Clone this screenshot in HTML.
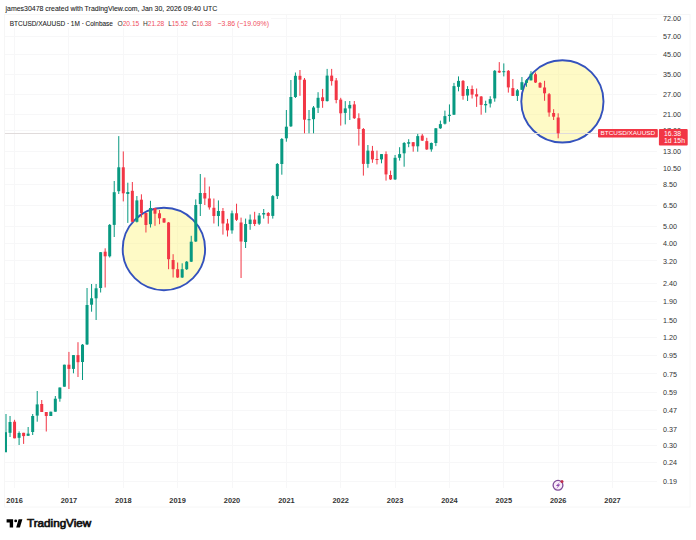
<!DOCTYPE html>
<html><head><meta charset="utf-8"><style>
html,body{margin:0;padding:0;background:#fff;}
body{width:696px;height:540px;position:relative;overflow:hidden;font-family:"Liberation Sans",sans-serif;}
</style></head><body>
<svg width="696" height="540" viewBox="0 0 696 540" style="position:absolute;left:0;top:0">
<rect x="4.5" y="14.5" width="685.5" height="492.5" fill="none" stroke="#f6f6f6" stroke-width="1"/>
<line x1="5" y1="18.5" x2="657" y2="18.5" stroke="#f7f7f8" stroke-width="1"/>
<line x1="5" y1="36.5" x2="657" y2="36.5" stroke="#f7f7f8" stroke-width="1"/>
<line x1="5" y1="54.5" x2="657" y2="54.5" stroke="#f7f7f8" stroke-width="1"/>
<line x1="5" y1="74.5" x2="657" y2="74.5" stroke="#f7f7f8" stroke-width="1"/>
<line x1="5" y1="94.5" x2="657" y2="94.5" stroke="#f7f7f8" stroke-width="1"/>
<line x1="5" y1="114.5" x2="657" y2="114.5" stroke="#f7f7f8" stroke-width="1"/>
<line x1="5" y1="151.5" x2="657" y2="151.5" stroke="#f7f7f8" stroke-width="1"/>
<line x1="5" y1="168.5" x2="657" y2="168.5" stroke="#f7f7f8" stroke-width="1"/>
<line x1="5" y1="184.5" x2="657" y2="184.5" stroke="#f7f7f8" stroke-width="1"/>
<line x1="5" y1="205.5" x2="657" y2="205.5" stroke="#f7f7f8" stroke-width="1"/>
<line x1="5" y1="226.5" x2="657" y2="226.5" stroke="#f7f7f8" stroke-width="1"/>
<line x1="5" y1="243.5" x2="657" y2="243.5" stroke="#f7f7f8" stroke-width="1"/>
<line x1="5" y1="260.5" x2="657" y2="260.5" stroke="#f7f7f8" stroke-width="1"/>
<line x1="5" y1="283.5" x2="657" y2="283.5" stroke="#f7f7f8" stroke-width="1"/>
<line x1="5" y1="301.5" x2="657" y2="301.5" stroke="#f7f7f8" stroke-width="1"/>
<line x1="5" y1="319.5" x2="657" y2="319.5" stroke="#f7f7f8" stroke-width="1"/>
<line x1="5" y1="337.5" x2="657" y2="337.5" stroke="#f7f7f8" stroke-width="1"/>
<line x1="5" y1="355.5" x2="657" y2="355.5" stroke="#f7f7f8" stroke-width="1"/>
<line x1="5" y1="373.5" x2="657" y2="373.5" stroke="#f7f7f8" stroke-width="1"/>
<line x1="5" y1="392.5" x2="657" y2="392.5" stroke="#f7f7f8" stroke-width="1"/>
<line x1="5" y1="410.5" x2="657" y2="410.5" stroke="#f7f7f8" stroke-width="1"/>
<line x1="5" y1="429.5" x2="657" y2="429.5" stroke="#f7f7f8" stroke-width="1"/>
<line x1="5" y1="445.5" x2="657" y2="445.5" stroke="#f7f7f8" stroke-width="1"/>
<line x1="5" y1="462.5" x2="657" y2="462.5" stroke="#f7f7f8" stroke-width="1"/>
<line x1="5" y1="481.5" x2="657" y2="481.5" stroke="#f7f7f8" stroke-width="1"/>
<line x1="5" y1="130.5" x2="657" y2="130.5" stroke="#f7f7f8" stroke-width="1"/>
<line x1="14.5" y1="15" x2="14.5" y2="488" stroke="#f7f7f8" stroke-width="1"/>
<line x1="68.5" y1="15" x2="68.5" y2="488" stroke="#f7f7f8" stroke-width="1"/>
<line x1="123.5" y1="15" x2="123.5" y2="488" stroke="#f7f7f8" stroke-width="1"/>
<line x1="177.5" y1="15" x2="177.5" y2="488" stroke="#f7f7f8" stroke-width="1"/>
<line x1="232.5" y1="15" x2="232.5" y2="488" stroke="#f7f7f8" stroke-width="1"/>
<line x1="286.5" y1="15" x2="286.5" y2="488" stroke="#f7f7f8" stroke-width="1"/>
<line x1="340.5" y1="15" x2="340.5" y2="488" stroke="#f7f7f8" stroke-width="1"/>
<line x1="395.5" y1="15" x2="395.5" y2="488" stroke="#f7f7f8" stroke-width="1"/>
<line x1="449.5" y1="15" x2="449.5" y2="488" stroke="#f7f7f8" stroke-width="1"/>
<line x1="503.5" y1="15" x2="503.5" y2="488" stroke="#f7f7f8" stroke-width="1"/>
<line x1="558.5" y1="15" x2="558.5" y2="488" stroke="#f7f7f8" stroke-width="1"/>
<line x1="612.5" y1="15" x2="612.5" y2="488" stroke="#f7f7f8" stroke-width="1"/>
<circle cx="163.9" cy="249.0" r="41.2" fill="#fdf278" fill-opacity="0.42"/>
<circle cx="562.4" cy="101.4" r="41.1" fill="#fdf278" fill-opacity="0.42"/>
<circle cx="163.9" cy="249.0" r="41.2" fill="none" stroke="#3452bd" stroke-width="1.9"/>
<circle cx="562.4" cy="101.4" r="41.1" fill="none" stroke="#3452bd" stroke-width="1.9"/>
<line x1="5" y1="133.5" x2="598" y2="133.5" stroke="#e0dbdb" stroke-width="1"/>
<rect x="5.50" y="414.0" width="1" height="38.2" fill="#089981"/>
<rect x="5.00" y="432.2" width="2.0" height="20.0" fill="#089981"/>
<rect x="9.53" y="416.0" width="1" height="21.0" fill="#089981"/>
<rect x="8.53" y="422.0" width="3.0" height="10.8" fill="#089981"/>
<rect x="14.06" y="419.8" width="1" height="18.5" fill="#f23645"/>
<rect x="13.06" y="421.7" width="3.0" height="16.6" fill="#f23645"/>
<rect x="18.59" y="431.4" width="1" height="13.6" fill="#089981"/>
<rect x="17.59" y="433.0" width="3.0" height="4.8" fill="#089981"/>
<rect x="23.12" y="432.8" width="1" height="11.1" fill="#f23645"/>
<rect x="22.12" y="432.8" width="3.0" height="3.3" fill="#f23645"/>
<rect x="27.65" y="427.0" width="1" height="8.8" fill="#089981"/>
<rect x="26.65" y="433.6" width="3.0" height="2.2" fill="#089981"/>
<rect x="32.18" y="414.0" width="1" height="21.0" fill="#089981"/>
<rect x="31.18" y="416.0" width="3.0" height="16.0" fill="#089981"/>
<rect x="36.71" y="391.0" width="1" height="30.7" fill="#089981"/>
<rect x="35.71" y="404.4" width="3.0" height="11.2" fill="#089981"/>
<rect x="41.24" y="400.0" width="1" height="12.0" fill="#f23645"/>
<rect x="40.24" y="404.0" width="3.0" height="8.0" fill="#f23645"/>
<rect x="45.77" y="412.0" width="1" height="19.5" fill="#f23645"/>
<rect x="44.77" y="412.0" width="3.0" height="4.0" fill="#f23645"/>
<rect x="50.30" y="411.7" width="1" height="4.3" fill="#089981"/>
<rect x="49.30" y="411.7" width="3.0" height="4.3" fill="#089981"/>
<rect x="54.83" y="396.0" width="1" height="15.7" fill="#089981"/>
<rect x="53.83" y="398.7" width="3.0" height="13.0" fill="#089981"/>
<rect x="59.36" y="387.5" width="1" height="14.2" fill="#089981"/>
<rect x="58.36" y="387.5" width="3.0" height="11.2" fill="#089981"/>
<rect x="63.89" y="364.7" width="1" height="22.0" fill="#089981"/>
<rect x="62.89" y="364.7" width="3.0" height="22.0" fill="#089981"/>
<rect x="68.42" y="351.9" width="1" height="37.1" fill="#f23645"/>
<rect x="67.42" y="364.7" width="3.0" height="4.2" fill="#f23645"/>
<rect x="72.95" y="355.0" width="1" height="18.3" fill="#089981"/>
<rect x="71.95" y="355.1" width="3.0" height="13.8" fill="#089981"/>
<rect x="77.48" y="342.2" width="1" height="34.8" fill="#f23645"/>
<rect x="76.48" y="355.1" width="3.0" height="7.1" fill="#f23645"/>
<rect x="82.01" y="344.0" width="1" height="36.0" fill="#089981"/>
<rect x="81.01" y="344.7" width="3.0" height="17.3" fill="#089981"/>
<rect x="86.54" y="288.0" width="1" height="57.0" fill="#089981"/>
<rect x="85.54" y="305.0" width="3.0" height="39.4" fill="#089981"/>
<rect x="91.07" y="284.0" width="1" height="27.7" fill="#089981"/>
<rect x="90.07" y="298.3" width="3.0" height="6.4" fill="#089981"/>
<rect x="95.60" y="284.0" width="1" height="36.0" fill="#089981"/>
<rect x="94.60" y="288.3" width="3.0" height="10.0" fill="#089981"/>
<rect x="100.13" y="252.0" width="1" height="40.5" fill="#089981"/>
<rect x="99.13" y="252.2" width="3.0" height="35.8" fill="#089981"/>
<rect x="104.66" y="248.3" width="1" height="39.2" fill="#f23645"/>
<rect x="103.66" y="251.7" width="3.0" height="4.6" fill="#f23645"/>
<rect x="109.19" y="224.0" width="1" height="33.5" fill="#089981"/>
<rect x="108.19" y="224.9" width="3.0" height="31.4" fill="#089981"/>
<rect x="113.72" y="181.0" width="1" height="56.0" fill="#089981"/>
<rect x="112.72" y="192.2" width="3.0" height="32.7" fill="#089981"/>
<rect x="118.25" y="136.1" width="1" height="57.9" fill="#089981"/>
<rect x="117.25" y="167.3" width="3.0" height="23.9" fill="#089981"/>
<rect x="122.78" y="151.4" width="1" height="50.0" fill="#f23645"/>
<rect x="121.78" y="167.3" width="3.0" height="26.0" fill="#f23645"/>
<rect x="127.31" y="182.7" width="1" height="40.2" fill="#089981"/>
<rect x="126.31" y="192.0" width="3.0" height="2.0" fill="#089981"/>
<rect x="131.84" y="182.0" width="1" height="40.0" fill="#f23645"/>
<rect x="130.84" y="190.8" width="3.0" height="31.0" fill="#f23645"/>
<rect x="136.37" y="196.0" width="1" height="26.5" fill="#089981"/>
<rect x="135.37" y="200.4" width="3.0" height="21.4" fill="#089981"/>
<rect x="140.90" y="194.3" width="1" height="23.2" fill="#f23645"/>
<rect x="139.90" y="199.7" width="3.0" height="13.3" fill="#f23645"/>
<rect x="145.43" y="213.0" width="1" height="19.5" fill="#f23645"/>
<rect x="144.43" y="213.0" width="3.0" height="12.0" fill="#f23645"/>
<rect x="149.96" y="200.8" width="1" height="26.7" fill="#089981"/>
<rect x="148.96" y="208.0" width="3.0" height="16.2" fill="#089981"/>
<rect x="154.49" y="208.0" width="1" height="17.8" fill="#f23645"/>
<rect x="153.49" y="208.0" width="3.0" height="5.7" fill="#f23645"/>
<rect x="159.02" y="210.0" width="1" height="14.2" fill="#f23645"/>
<rect x="158.02" y="213.3" width="3.0" height="5.0" fill="#f23645"/>
<rect x="163.55" y="218.0" width="1" height="5.0" fill="#f23645"/>
<rect x="162.55" y="218.3" width="3.0" height="4.2" fill="#f23645"/>
<rect x="168.08" y="222.0" width="1" height="47.2" fill="#f23645"/>
<rect x="167.08" y="222.5" width="3.0" height="36.7" fill="#f23645"/>
<rect x="172.61" y="254.2" width="1" height="23.3" fill="#f23645"/>
<rect x="171.61" y="260.0" width="3.0" height="9.2" fill="#f23645"/>
<rect x="177.14" y="262.5" width="1" height="15.5" fill="#f23645"/>
<rect x="176.14" y="269.2" width="3.0" height="8.3" fill="#f23645"/>
<rect x="181.67" y="263.3" width="1" height="14.7" fill="#089981"/>
<rect x="180.67" y="269.2" width="3.0" height="8.3" fill="#089981"/>
<rect x="186.20" y="261.0" width="1" height="9.0" fill="#089981"/>
<rect x="185.20" y="261.7" width="3.0" height="7.5" fill="#089981"/>
<rect x="190.73" y="235.8" width="1" height="26.2" fill="#089981"/>
<rect x="189.73" y="241.7" width="3.0" height="20.0" fill="#089981"/>
<rect x="195.26" y="199.4" width="1" height="42.6" fill="#089981"/>
<rect x="194.26" y="205.0" width="3.0" height="36.5" fill="#089981"/>
<rect x="199.79" y="174.0" width="1" height="42.0" fill="#089981"/>
<rect x="198.79" y="193.0" width="3.0" height="11.0" fill="#089981"/>
<rect x="204.32" y="177.5" width="1" height="27.5" fill="#f23645"/>
<rect x="203.32" y="193.0" width="3.0" height="5.5" fill="#f23645"/>
<rect x="208.85" y="186.5" width="1" height="23.1" fill="#f23645"/>
<rect x="207.85" y="198.5" width="3.0" height="8.9" fill="#f23645"/>
<rect x="213.38" y="198.5" width="1" height="25.0" fill="#f23645"/>
<rect x="212.38" y="207.8" width="3.0" height="8.2" fill="#f23645"/>
<rect x="217.91" y="200.4" width="1" height="25.9" fill="#089981"/>
<rect x="216.91" y="211.0" width="3.0" height="5.0" fill="#089981"/>
<rect x="222.44" y="208.0" width="1" height="26.6" fill="#f23645"/>
<rect x="221.44" y="211.0" width="3.0" height="12.5" fill="#f23645"/>
<rect x="226.97" y="218.9" width="1" height="17.6" fill="#f23645"/>
<rect x="225.97" y="223.5" width="3.0" height="6.9" fill="#f23645"/>
<rect x="231.50" y="210.6" width="1" height="23.1" fill="#089981"/>
<rect x="230.50" y="213.3" width="3.0" height="17.1" fill="#089981"/>
<rect x="236.03" y="203.7" width="1" height="17.3" fill="#f23645"/>
<rect x="235.03" y="213.3" width="3.0" height="6.5" fill="#f23645"/>
<rect x="240.56" y="217.6" width="1" height="60.4" fill="#f23645"/>
<rect x="239.56" y="222.5" width="3.0" height="19.0" fill="#f23645"/>
<rect x="245.09" y="218.6" width="1" height="29.4" fill="#089981"/>
<rect x="244.09" y="224.0" width="3.0" height="18.0" fill="#089981"/>
<rect x="249.62" y="214.5" width="1" height="15.3" fill="#089981"/>
<rect x="248.62" y="219.6" width="3.0" height="4.4" fill="#089981"/>
<rect x="254.15" y="211.8" width="1" height="14.2" fill="#f23645"/>
<rect x="253.15" y="219.6" width="3.0" height="4.4" fill="#f23645"/>
<rect x="258.68" y="213.0" width="1" height="12.0" fill="#089981"/>
<rect x="257.68" y="215.5" width="3.0" height="8.2" fill="#089981"/>
<rect x="263.21" y="209.0" width="1" height="9.6" fill="#089981"/>
<rect x="262.21" y="213.0" width="3.0" height="1.5" fill="#089981"/>
<rect x="267.74" y="212.0" width="1" height="11.7" fill="#f23645"/>
<rect x="266.74" y="213.0" width="3.0" height="2.9" fill="#f23645"/>
<rect x="272.27" y="195.0" width="1" height="23.6" fill="#089981"/>
<rect x="271.27" y="196.1" width="3.0" height="19.8" fill="#089981"/>
<rect x="276.80" y="163.0" width="1" height="36.0" fill="#089981"/>
<rect x="275.80" y="164.0" width="3.0" height="32.1" fill="#089981"/>
<rect x="281.33" y="138.0" width="1" height="36.7" fill="#089981"/>
<rect x="280.33" y="139.0" width="3.0" height="25.0" fill="#089981"/>
<rect x="285.86" y="110.0" width="1" height="31.7" fill="#089981"/>
<rect x="284.86" y="126.7" width="3.0" height="11.6" fill="#089981"/>
<rect x="290.39" y="80.0" width="1" height="47.0" fill="#089981"/>
<rect x="289.39" y="97.0" width="3.0" height="29.3" fill="#089981"/>
<rect x="294.92" y="72.5" width="1" height="25.5" fill="#089981"/>
<rect x="293.92" y="75.8" width="3.0" height="21.2" fill="#089981"/>
<rect x="299.45" y="70.0" width="1" height="25.8" fill="#f23645"/>
<rect x="298.45" y="75.8" width="3.0" height="3.9" fill="#f23645"/>
<rect x="303.98" y="78.0" width="1" height="55.3" fill="#f23645"/>
<rect x="302.98" y="79.7" width="3.0" height="40.0" fill="#f23645"/>
<rect x="308.51" y="110.0" width="1" height="23.3" fill="#089981"/>
<rect x="307.51" y="119.2" width="3.0" height="1.0" fill="#089981"/>
<rect x="313.04" y="106.0" width="1" height="27.3" fill="#089981"/>
<rect x="312.04" y="107.5" width="3.0" height="11.7" fill="#089981"/>
<rect x="317.57" y="92.2" width="1" height="20.8" fill="#089981"/>
<rect x="316.57" y="97.8" width="3.0" height="10.0" fill="#089981"/>
<rect x="322.10" y="88.9" width="1" height="18.9" fill="#f23645"/>
<rect x="321.10" y="97.3" width="3.0" height="3.8" fill="#f23645"/>
<rect x="326.63" y="68.9" width="1" height="32.6" fill="#089981"/>
<rect x="325.63" y="75.6" width="3.0" height="25.5" fill="#089981"/>
<rect x="331.16" y="68.9" width="1" height="16.7" fill="#f23645"/>
<rect x="330.16" y="75.6" width="3.0" height="5.5" fill="#f23645"/>
<rect x="335.69" y="78.0" width="1" height="25.3" fill="#f23645"/>
<rect x="334.69" y="80.4" width="3.0" height="19.6" fill="#f23645"/>
<rect x="340.22" y="97.8" width="1" height="27.8" fill="#f23645"/>
<rect x="339.22" y="99.6" width="3.0" height="13.7" fill="#f23645"/>
<rect x="344.75" y="101.1" width="1" height="23.3" fill="#089981"/>
<rect x="343.75" y="108.4" width="3.0" height="4.5" fill="#089981"/>
<rect x="349.28" y="101.0" width="1" height="19.0" fill="#089981"/>
<rect x="348.28" y="104.9" width="3.0" height="3.5" fill="#089981"/>
<rect x="353.81" y="101.0" width="1" height="18.0" fill="#f23645"/>
<rect x="352.81" y="104.4" width="3.0" height="13.8" fill="#f23645"/>
<rect x="358.34" y="113.3" width="1" height="32.3" fill="#f23645"/>
<rect x="357.34" y="118.2" width="3.0" height="10.7" fill="#f23645"/>
<rect x="362.87" y="128.0" width="1" height="47.6" fill="#f23645"/>
<rect x="361.87" y="129.0" width="3.0" height="34.9" fill="#f23645"/>
<rect x="367.40" y="145.0" width="1" height="22.8" fill="#089981"/>
<rect x="366.40" y="150.6" width="3.0" height="13.3" fill="#089981"/>
<rect x="371.93" y="145.9" width="1" height="16.9" fill="#f23645"/>
<rect x="370.93" y="150.8" width="3.0" height="8.6" fill="#f23645"/>
<rect x="376.46" y="150.6" width="1" height="13.8" fill="#f23645"/>
<rect x="375.46" y="159.0" width="3.0" height="1.0" fill="#f23645"/>
<rect x="380.99" y="154.0" width="1" height="9.3" fill="#089981"/>
<rect x="379.99" y="154.1" width="3.0" height="5.3" fill="#089981"/>
<rect x="385.52" y="151.4" width="1" height="29.2" fill="#f23645"/>
<rect x="384.52" y="154.1" width="3.0" height="20.3" fill="#f23645"/>
<rect x="390.05" y="170.6" width="1" height="9.4" fill="#f23645"/>
<rect x="389.05" y="175.0" width="3.0" height="4.4" fill="#f23645"/>
<rect x="394.58" y="155.0" width="1" height="25.0" fill="#089981"/>
<rect x="393.58" y="157.8" width="3.0" height="21.6" fill="#089981"/>
<rect x="399.11" y="147.2" width="1" height="13.4" fill="#089981"/>
<rect x="398.11" y="154.1" width="3.0" height="3.7" fill="#089981"/>
<rect x="403.64" y="142.0" width="1" height="24.7" fill="#089981"/>
<rect x="402.64" y="143.0" width="3.0" height="10.3" fill="#089981"/>
<rect x="408.17" y="139.2" width="1" height="8.0" fill="#089981"/>
<rect x="407.17" y="142.2" width="3.0" height="1.5" fill="#089981"/>
<rect x="412.70" y="142.0" width="1" height="9.7" fill="#f23645"/>
<rect x="411.70" y="142.2" width="3.0" height="4.1" fill="#f23645"/>
<rect x="417.23" y="133.9" width="1" height="17.8" fill="#089981"/>
<rect x="416.23" y="136.1" width="3.0" height="10.2" fill="#089981"/>
<rect x="421.76" y="133.9" width="1" height="7.1" fill="#f23645"/>
<rect x="420.76" y="135.6" width="3.0" height="5.0" fill="#f23645"/>
<rect x="426.29" y="137.8" width="1" height="12.2" fill="#f23645"/>
<rect x="425.29" y="141.1" width="3.0" height="8.3" fill="#f23645"/>
<rect x="430.82" y="142.5" width="1" height="9.2" fill="#089981"/>
<rect x="429.82" y="143.0" width="3.0" height="6.4" fill="#089981"/>
<rect x="435.35" y="128.0" width="1" height="18.1" fill="#089981"/>
<rect x="434.35" y="128.3" width="3.0" height="14.7" fill="#089981"/>
<rect x="439.88" y="120.6" width="1" height="8.3" fill="#089981"/>
<rect x="438.88" y="124.1" width="3.0" height="4.2" fill="#089981"/>
<rect x="444.41" y="110.6" width="1" height="13.9" fill="#089981"/>
<rect x="443.41" y="116.1" width="3.0" height="7.6" fill="#089981"/>
<rect x="448.94" y="104.4" width="1" height="17.3" fill="#089981"/>
<rect x="447.94" y="114.8" width="3.0" height="1.1" fill="#089981"/>
<rect x="453.47" y="82.9" width="1" height="32.1" fill="#089981"/>
<rect x="452.47" y="86.1" width="3.0" height="28.6" fill="#089981"/>
<rect x="458.00" y="76.4" width="1" height="14.9" fill="#089981"/>
<rect x="457.00" y="80.9" width="3.0" height="5.9" fill="#089981"/>
<rect x="462.53" y="80.0" width="1" height="19.7" fill="#f23645"/>
<rect x="461.53" y="80.9" width="3.0" height="15.0" fill="#f23645"/>
<rect x="467.06" y="86.1" width="1" height="14.9" fill="#089981"/>
<rect x="466.06" y="89.0" width="3.0" height="6.5" fill="#089981"/>
<rect x="471.59" y="85.5" width="1" height="13.0" fill="#f23645"/>
<rect x="470.59" y="89.0" width="3.0" height="5.6" fill="#f23645"/>
<rect x="476.12" y="88.5" width="1" height="18.4" fill="#f23645"/>
<rect x="475.12" y="94.2" width="3.0" height="2.3" fill="#f23645"/>
<rect x="480.65" y="96.0" width="1" height="18.7" fill="#f23645"/>
<rect x="479.65" y="96.5" width="3.0" height="8.4" fill="#f23645"/>
<rect x="485.18" y="100.7" width="1" height="12.0" fill="#089981"/>
<rect x="484.18" y="104.0" width="3.0" height="1.3" fill="#089981"/>
<rect x="489.71" y="96.2" width="1" height="11.3" fill="#089981"/>
<rect x="488.71" y="99.1" width="3.0" height="4.5" fill="#089981"/>
<rect x="494.24" y="70.0" width="1" height="31.7" fill="#089981"/>
<rect x="493.24" y="70.8" width="3.0" height="27.6" fill="#089981"/>
<rect x="498.77" y="62.1" width="1" height="10.9" fill="#f23645"/>
<rect x="497.77" y="70.8" width="3.0" height="1.7" fill="#f23645"/>
<rect x="503.30" y="63.4" width="1" height="13.0" fill="#089981"/>
<rect x="502.30" y="71.2" width="3.0" height="1.0" fill="#089981"/>
<rect x="507.83" y="70.0" width="1" height="22.6" fill="#f23645"/>
<rect x="506.83" y="70.8" width="3.0" height="16.6" fill="#f23645"/>
<rect x="512.36" y="79.0" width="1" height="17.0" fill="#f23645"/>
<rect x="511.36" y="88.1" width="3.0" height="7.8" fill="#f23645"/>
<rect x="516.89" y="89.0" width="1" height="12.0" fill="#089981"/>
<rect x="515.89" y="90.3" width="3.0" height="5.6" fill="#089981"/>
<rect x="521.42" y="77.0" width="1" height="13.0" fill="#089981"/>
<rect x="520.42" y="82.2" width="3.0" height="7.6" fill="#089981"/>
<rect x="525.95" y="79.0" width="1" height="7.8" fill="#089981"/>
<rect x="524.95" y="80.3" width="3.0" height="2.6" fill="#089981"/>
<rect x="530.48" y="71.2" width="1" height="9.3" fill="#089981"/>
<rect x="529.48" y="73.8" width="3.0" height="6.5" fill="#089981"/>
<rect x="535.01" y="72.5" width="1" height="10.5" fill="#f23645"/>
<rect x="534.01" y="74.2" width="3.0" height="8.3" fill="#f23645"/>
<rect x="539.54" y="82.0" width="1" height="6.0" fill="#f23645"/>
<rect x="538.54" y="83.0" width="3.0" height="4.5" fill="#f23645"/>
<rect x="544.07" y="80.8" width="1" height="20.0" fill="#f23645"/>
<rect x="543.07" y="87.5" width="3.0" height="5.8" fill="#f23645"/>
<rect x="548.60" y="93.0" width="1" height="23.7" fill="#f23645"/>
<rect x="547.60" y="94.2" width="3.0" height="18.3" fill="#f23645"/>
<rect x="553.13" y="109.2" width="1" height="10.8" fill="#f23645"/>
<rect x="552.13" y="113.0" width="3.0" height="3.7" fill="#f23645"/>
<rect x="557.66" y="113.3" width="1" height="25.0" fill="#f23645"/>
<rect x="556.66" y="117.5" width="3.0" height="15.8" fill="#f23645"/>
<text x="663" y="20.7" font-family="Liberation Sans, sans-serif" font-size="7.1" fill="#333" textLength="18" lengthAdjust="spacingAndGlyphs">72.00</text>
<text x="663" y="38.9" font-family="Liberation Sans, sans-serif" font-size="7.1" fill="#333" textLength="18" lengthAdjust="spacingAndGlyphs">57.00</text>
<text x="663" y="57.4" font-family="Liberation Sans, sans-serif" font-size="7.1" fill="#333" textLength="18" lengthAdjust="spacingAndGlyphs">45.00</text>
<text x="663" y="77.0" font-family="Liberation Sans, sans-serif" font-size="7.1" fill="#333" textLength="18" lengthAdjust="spacingAndGlyphs">35.00</text>
<text x="663" y="97.2" font-family="Liberation Sans, sans-serif" font-size="7.1" fill="#333" textLength="18" lengthAdjust="spacingAndGlyphs">27.00</text>
<text x="663" y="116.8" font-family="Liberation Sans, sans-serif" font-size="7.1" fill="#333" textLength="18" lengthAdjust="spacingAndGlyphs">21.00</text>
<text x="663" y="154.2" font-family="Liberation Sans, sans-serif" font-size="7.1" fill="#333" textLength="18" lengthAdjust="spacingAndGlyphs">13.00</text>
<text x="663" y="170.8" font-family="Liberation Sans, sans-serif" font-size="7.1" fill="#333" textLength="18" lengthAdjust="spacingAndGlyphs">10.50</text>
<text x="663" y="187.3" font-family="Liberation Sans, sans-serif" font-size="7.1" fill="#333" textLength="14" lengthAdjust="spacingAndGlyphs">8.50</text>
<text x="663" y="208.2" font-family="Liberation Sans, sans-serif" font-size="7.1" fill="#333" textLength="14" lengthAdjust="spacingAndGlyphs">6.50</text>
<text x="663" y="228.7" font-family="Liberation Sans, sans-serif" font-size="7.1" fill="#333" textLength="14" lengthAdjust="spacingAndGlyphs">5.00</text>
<text x="663" y="246.1" font-family="Liberation Sans, sans-serif" font-size="7.1" fill="#333" textLength="14" lengthAdjust="spacingAndGlyphs">4.00</text>
<text x="663" y="263.5" font-family="Liberation Sans, sans-serif" font-size="7.1" fill="#333" textLength="14" lengthAdjust="spacingAndGlyphs">3.20</text>
<text x="663" y="285.9" font-family="Liberation Sans, sans-serif" font-size="7.1" fill="#333" textLength="14" lengthAdjust="spacingAndGlyphs">2.40</text>
<text x="663" y="304.1" font-family="Liberation Sans, sans-serif" font-size="7.1" fill="#333" textLength="14" lengthAdjust="spacingAndGlyphs">1.90</text>
<text x="663" y="322.5" font-family="Liberation Sans, sans-serif" font-size="7.1" fill="#333" textLength="14" lengthAdjust="spacingAndGlyphs">1.50</text>
<text x="663" y="339.9" font-family="Liberation Sans, sans-serif" font-size="7.1" fill="#333" textLength="14" lengthAdjust="spacingAndGlyphs">1.20</text>
<text x="663" y="358.1" font-family="Liberation Sans, sans-serif" font-size="7.1" fill="#333" textLength="14" lengthAdjust="spacingAndGlyphs">0.95</text>
<text x="663" y="376.6" font-family="Liberation Sans, sans-serif" font-size="7.1" fill="#333" textLength="14" lengthAdjust="spacingAndGlyphs">0.75</text>
<text x="663" y="395.3" font-family="Liberation Sans, sans-serif" font-size="7.1" fill="#333" textLength="14" lengthAdjust="spacingAndGlyphs">0.59</text>
<text x="663" y="413.0" font-family="Liberation Sans, sans-serif" font-size="7.1" fill="#333" textLength="14" lengthAdjust="spacingAndGlyphs">0.47</text>
<text x="663" y="431.6" font-family="Liberation Sans, sans-serif" font-size="7.1" fill="#333" textLength="14" lengthAdjust="spacingAndGlyphs">0.37</text>
<text x="663" y="448.0" font-family="Liberation Sans, sans-serif" font-size="7.1" fill="#333" textLength="14" lengthAdjust="spacingAndGlyphs">0.30</text>
<text x="663" y="465.4" font-family="Liberation Sans, sans-serif" font-size="7.1" fill="#333" textLength="14" lengthAdjust="spacingAndGlyphs">0.24</text>
<text x="663" y="483.6" font-family="Liberation Sans, sans-serif" font-size="7.1" fill="#333" textLength="14" lengthAdjust="spacingAndGlyphs">0.19</text>
<text x="663" y="133.3" font-family="Liberation Sans, sans-serif" font-size="7.1" fill="#333" textLength="18" lengthAdjust="spacingAndGlyphs">17.00</text>
<text x="14.6" y="503" font-family="Liberation Sans, sans-serif" font-size="7.4" font-weight="bold" fill="#333" text-anchor="middle">2016</text>
<text x="68.9" y="503" font-family="Liberation Sans, sans-serif" font-size="7.4" font-weight="bold" fill="#333" text-anchor="middle">2017</text>
<text x="123.3" y="503" font-family="Liberation Sans, sans-serif" font-size="7.4" font-weight="bold" fill="#333" text-anchor="middle">2018</text>
<text x="177.6" y="503" font-family="Liberation Sans, sans-serif" font-size="7.4" font-weight="bold" fill="#333" text-anchor="middle">2019</text>
<text x="232.0" y="503" font-family="Liberation Sans, sans-serif" font-size="7.4" font-weight="bold" fill="#333" text-anchor="middle">2020</text>
<text x="286.4" y="503" font-family="Liberation Sans, sans-serif" font-size="7.4" font-weight="bold" fill="#333" text-anchor="middle">2021</text>
<text x="340.7" y="503" font-family="Liberation Sans, sans-serif" font-size="7.4" font-weight="bold" fill="#333" text-anchor="middle">2022</text>
<text x="395.1" y="503" font-family="Liberation Sans, sans-serif" font-size="7.4" font-weight="bold" fill="#333" text-anchor="middle">2023</text>
<text x="449.4" y="503" font-family="Liberation Sans, sans-serif" font-size="7.4" font-weight="bold" fill="#333" text-anchor="middle">2024</text>
<text x="503.8" y="503" font-family="Liberation Sans, sans-serif" font-size="7.4" font-weight="bold" fill="#333" text-anchor="middle">2025</text>
<text x="558.2" y="503" font-family="Liberation Sans, sans-serif" font-size="7.4" font-weight="bold" fill="#333" text-anchor="middle">2026</text>
<text x="612.5" y="503" font-family="Liberation Sans, sans-serif" font-size="7.4" font-weight="bold" fill="#333" text-anchor="middle">2027</text>
<rect x="598" y="128.9" width="59.8" height="8.7" rx="1" fill="#f23645"/>
<text x="600.6" y="135.4" font-family="Liberation Sans, sans-serif" font-size="6.2" fill="#fff" textLength="54.6" lengthAdjust="spacingAndGlyphs">BTCUSD/XAUUSD</text>
<rect x="658.9" y="128.9" width="28.8" height="16.6" rx="1" fill="#f23645"/>
<text x="664" y="135.9" font-family="Liberation Sans, sans-serif" font-size="6.6" fill="#fff" textLength="17.1" lengthAdjust="spacingAndGlyphs">16.38</text>
<text x="664" y="143" font-family="Liberation Sans, sans-serif" font-size="6.6" fill="#fff" textLength="21" lengthAdjust="spacingAndGlyphs">1d 15h</text>
<rect x="5" y="15" width="266" height="13" fill="#fff"/>
<text x="5.5" y="10.7" font-family="Liberation Sans, sans-serif" font-size="7" fill="#222" stroke="#222" stroke-width="0.08" textLength="211.7" lengthAdjust="spacingAndGlyphs">james30478 created with TradingView.com, Jan 30, 2026 09:40 UTC</text>
<text x="9.8" y="25.5" font-family="Liberation Sans, sans-serif" font-size="7" fill="#222" stroke="#222" stroke-width="0.08" textLength="103.1" lengthAdjust="spacingAndGlyphs">BTCUSD/XAUUSD · 1M · Coinbase</text>
<text x="117.5" y="25.5" font-family="Liberation Sans, sans-serif" font-size="7" textLength="21.8" lengthAdjust="spacingAndGlyphs"><tspan fill="#333">O</tspan><tspan fill="#f0505e">20.15</tspan></text>
<text x="143" y="25.5" font-family="Liberation Sans, sans-serif" font-size="7" textLength="21.3" lengthAdjust="spacingAndGlyphs"><tspan fill="#333">H</tspan><tspan fill="#f0505e">21.28</tspan></text>
<text x="168.2" y="25.5" font-family="Liberation Sans, sans-serif" font-size="7" textLength="19.6" lengthAdjust="spacingAndGlyphs"><tspan fill="#333">L</tspan><tspan fill="#f0505e">15.52</tspan></text>
<text x="191.9" y="25.5" font-family="Liberation Sans, sans-serif" font-size="7" textLength="19.6" lengthAdjust="spacingAndGlyphs"><tspan fill="#333">C</tspan><tspan fill="#f0505e">16.38</tspan></text>
<text x="217.6" y="25.5" font-family="Liberation Sans, sans-serif" font-size="7" fill="#f0505e" textLength="51.4" lengthAdjust="spacingAndGlyphs">−3.86 (−19.09%)</text>
<circle cx="558" cy="485.3" r="4.9" fill="#f9ecf8" stroke="#7f4c98" stroke-width="1.3"/>
<path d="M559.9 481.9 L555.9 486.0 L558.0 486.0 L556.3 488.9 L560.3 484.6 L558.2 484.6 Z" fill="#8a44ad"/>
<circle cx="562" cy="481.4" r="1.5" fill="#c0304e"/>
<path d="M6.6 519.3 H13.1 V527.4 H9.7 V522.4 H6.6 Z" fill="#000"/>
<circle cx="15.7" cy="520.9" r="1.45" fill="#000"/>
<path d="M18.6 519.3 H22.4 L19.9 527.4 H16.2 Z" fill="#000"/>
<text x="27" y="527.2" font-family="Liberation Sans, sans-serif" font-size="10.6" fill="#111" stroke="#111" stroke-width="0.65" textLength="64.2" lengthAdjust="spacingAndGlyphs">TradingView</text>
</svg>
</body></html>
